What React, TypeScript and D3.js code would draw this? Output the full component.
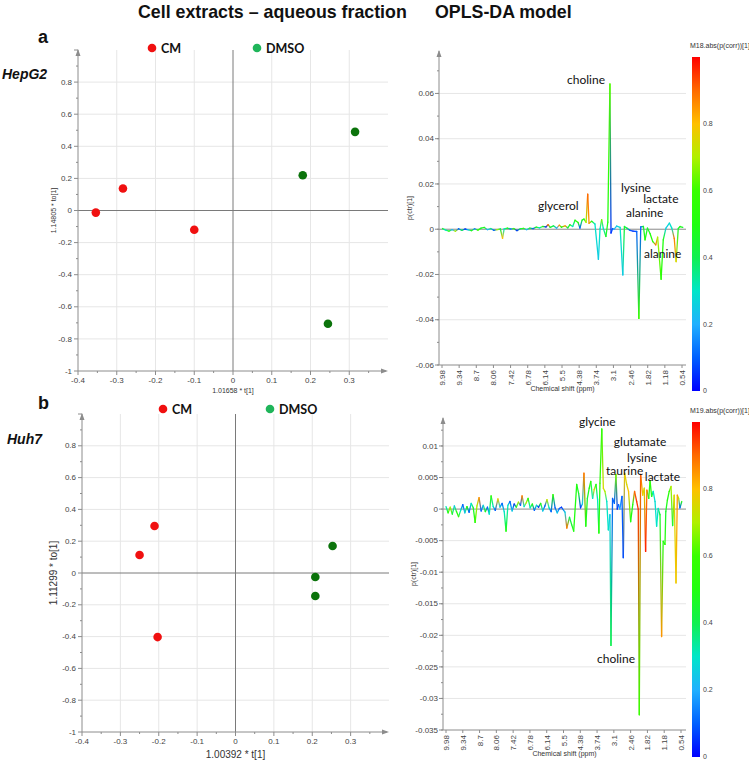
import React from "react";
import * as d3 from "d3";

// ---------- DATA ----------
const groupNames = ["CM", "DMSO"];
const hepCM_t = [-0.354, -0.284, -0.1];
const hepCM_to = [-0.013, 0.137, -0.12];
const hepDMSO_t = [0.315, 0.18, 0.245];
const hepDMSO_to = [0.49, 0.22, -0.706];
const huhCM_t = [-0.211, -0.25, -0.203];
const huhCM_to = [0.296, 0.113, -0.403];
const huhDMSO_t = [0.253, 0.208, 0.208];
const huhDMSO_to = [0.17, -0.025, -0.145];

const scoreXTicks = [-0.4, -0.3, -0.2, -0.1, 0, 0.1, 0.2, 0.3];
const scoreYTicks = [-1, -0.8, -0.6, -0.4, -0.2, 0, 0.2, 0.4, 0.6, 0.8];

const ppmTicks = [9.98, 9.34, 8.7, 8.06, 7.42, 6.78, 6.14, 5.5, 4.38, 3.74, 3.1, 2.46, 1.82, 1.18, 0.54];
const hepPTicks = [-0.06, -0.04, -0.02, 0, 0.02, 0.04, 0.06];
const huhPTicks = [-0.035, -0.03, -0.025, -0.02, -0.015, -0.01, -0.005, 0, 0.005, 0.01];
const corrTicks = [0, 0.2, 0.4, 0.6, 0.8];

// HepG2 loadings: ppm, p(ctr) x1e-3, abs(p(corr))
const hepPpm = [9.96, 9.84, 9.72, 9.6, 9.48, 9.36, 9.24, 9.12, 9.0, 8.88, 8.76, 8.64, 8.52, 8.4, 8.28, 8.16, 8.04, 7.92, 7.8, 7.72, 7.66, 7.54, 7.42, 7.3, 7.18, 7.06, 6.94, 6.82, 6.7, 6.58, 6.46, 6.34, 6.22, 6.1, 6.02, 5.94, 5.82, 5.7, 5.6, 5.52,
  5.3, 5.12, 4.98, 4.8, 4.65, 4.45,
  4.35, 4.27, 4.2, 4.12, 4.06, 4.01, 3.91, 3.79, 3.66, 3.6, 3.54, 3.48, 3.38, 3.31, 3.23, 3.19, 3.13, 3.07, 2.98, 2.85, 2.75, 2.69, 2.6, 2.48, 2.37, 2.23, 2.15, 2.08, 1.98, 1.92, 1.83, 1.73, 1.63, 1.52, 1.45, 1.32, 1.24, 1.14, 1.01, 0.92, 0.83, 0.76, 0.68, 0.61, 0.51];
const hepP = [0.3, -0.4, -0.8, -0.2, -0.9, 0.2, -0.5, 0.1, -0.3, -0.6, 0.2, -0.4, 0.5, 0.8, -0.2, 0.3, -0.5, -0.2, 0.1, -4.0, 0.2, 0.5, 0.1, 0.3, -0.6, 0.2, 0.4, -0.2, 0.5, 0.3, 0.9, 0.6, 1.2, 1.0, 2.0, 0.8, 1.5, 0.5, 1.8, 0.9,
  1.5, 0.6, 2.0, 1.2, 4.0, 3.0,
  0.5, 4.0, 4.5, 3.0, 15.5, 2.6, 3.5, 2.3, -13.3, 0.2, 4.2, 0.5, -3.2, 3.1, 64.2, -1.7, 0.3, 0, 1.4, 0.8, -20.2, 1.2, 0.5, -0.5, -0.8, -1.0, -39.4, 1.0, 1.2, -4.7, 0.5, -2.0, -5.5, -6.9, -3.5, -22.1, -4.7, 0.5, 2.7, 0.5, -4.0, -14.3, 0.3, 1.2, 0.8];
const hepCorr = [0.45, 0.3, 0.55, 0.2, 0.7, 0.1, 0.4, 0.05, 0.25, 0.5, 0.15, 0.6, 0.45, 0.5, 0.2, 0.35, 0.1, 0.7, 0.4, 0.8, 0.3, 0.5, 0.15, 0.6, 0.05, 0.4, 0.55, 0.2, 0.45, 0.1, 0.5, 0.3, 0.55, 0.05, 0.9, 0.45, 0.4, 0.2, 0.85, 0.5,
  0.85, 0.4, 0.5, 0.3, 0.5, 0.55,
  0.1, 0.45, 0.5, 0.7, 0.9, 0.85, 0.5, 0.3, 0.25, 0.3, 0.65, 0.3, 0.45, 0.5, 0.62, 0.05, 0.1, 0.2, 0.25, 0.3, 0.25, 0.45, 0.4, 0.1, 0.05, 0.1, 0.6, 0.1, 0.45, 0.5, 0.45, 0.5, 0.55, 0.88, 0.7, 0.55, 0.5, 0.25, 0.28, 0.3, 0.88, 0.75, 0.45, 0.5, 0.45];

// Huh7 loadings
const huhPpm = [9.98, 9.9, 9.82, 9.74, 9.66, 9.58, 9.5, 9.42, 9.34, 9.26, 9.18, 9.1, 9.02, 8.94, 8.87, 8.8, 8.72, 8.64, 8.56, 8.48, 8.4, 8.33, 8.26, 8.18, 8.1, 8.0, 7.92, 7.84, 7.76, 7.69, 7.62, 7.54, 7.46, 7.38, 7.3, 7.22, 7.14, 7.08, 7.0, 6.92, 6.85, 6.77, 6.69, 6.61, 6.53, 6.45, 6.37, 6.29, 6.21, 6.13, 6.05, 5.97, 5.9, 5.82, 5.74, 5.66, 5.58,
  5.4, 5.28, 5.1, 4.95, 4.82, 4.62, 4.49,
  4.37, 4.3, 4.24, 4.17, 4.11, 4.04, 3.98, 3.91, 3.85, 3.78, 3.72, 3.67, 3.63, 3.56, 3.5, 3.44, 3.37, 3.31, 3.25, 3.21, 3.15, 3.08, 3.02, 2.97, 2.92, 2.87, 2.79, 2.74, 2.69, 2.61, 2.54, 2.46, 2.38, 2.31, 2.23, 2.17, 2.13, 2.08, 2.0, 1.94, 1.89, 1.84, 1.77, 1.72, 1.66, 1.6, 1.53, 1.47, 1.41, 1.34, 1.28, 1.22, 1.15, 1.12, 1.06, 0.99, 0.92, 0.86, 0.8, 0.73, 0.68, 0.63, 0.58, 0.51];
const huhP = [0.4, -0.6, 0.3, -0.8, 0.5, -0.4, -1.2, -0.2, 0.7, -0.6, 0.4, -0.5, 0.9, 0.2, -2.1, 0.5, 1.8, -0.3, 0.6, -0.4, 0.3, -0.8, 2.1, 0.4, -0.2, 1.6, 0.3, 0.9, -0.4, -3.5, 0.6, 1.2, -0.3, 0.8, 0.3, 1.1, 0.6, 2.1, 0.4, 1.0, 1.7, 0.2, 0.8, -0.2, 0.6, 0.3, 0.9, -0.3, 0.5, 1.5, 0.2, -0.4, 2.3, 0.2, -0.6, 0.1, 0.3,
  -0.5, -3.0, -1.3, -2.5, -3.5, 3.9, 2.5,
  0.2, 0.8, 5.7, -2.7, 1.7, 3.3, 4.4, 1.7, 3.1, 3.9, 1.5, -3.8, 4.1, 12.7, 3.3, 2.8, 1.2, -3.3, -0.9, -21.6, 1.7, 0.9, 5.5, 0, 0.7, 0, 2.0, -7.7, 5.7, 3.9, 2.8, -2.0, 0.7, 2.8, 1.2, 0, -32.6, 5.5, 2.2, 3.3, -6.7, 3.0, 1.7, 4.5, 2.0, 2.8, 1.2, -2.7, 0.1, -0.9, -20.2, -5.1, -5.6, -0.4, 1.4, 2.8, 3.6, -2.6, 2.2, -11.7, 2.2, 1.7, 0.2, 1.2];
const huhCorr = [0.3, 0.5, 0.7, 0.45, 0.25, 0.5, 0.55, 0.3, 0.1, 0.25, 0.5, 0.1, 0.3, 0.45, 0.55, 0.7, 0.85, 0.1, 0.25, 0.5, 0.1, 0.3, 0.55, 0.3, 0.1, 0.78, 0.25, 0.1, 0.3, 0.5, 0.3, 0.1, 0.25, 0.05, 0.45, 0.7, 0.1, 0.88, 0.3, 0.7, 0.55, 0.3, 0.5, 0.1, 0.3, 0.05, 0.5, 0.25, 0.1, 0.72, 0.3, 0.1, 0.55, 0.1, 0.25, 0.1, 0.05,
  0.25, 0.88, 0.4, 0.45, 0.5, 0.5, 0.45,
  0.05, 0.25, 0.88, 0.5, 0.45, 0.5, 0.55, 0.3, 0.75, 0.5, 0.3, 0.5, 0.55, 0.55, 0.75, 0.7, 0.3, 0.3, 0.25, 0.4, 0.1, 0.1, 0.65, 0.05, 0.1, 0.2, 0.1, 0.08, 0.78, 0.75, 0.8, 0.5, 0.5, 0.9, 0.95, 0.95, 0.6, 0.92, 0.78, 0.75, 0.97, 0.88, 0.5, 0.55, 0.5, 0.3, 0.28, 0.3, 0.3, 0.45, 0.85, 0.5, 0.55, 0.45, 0.5, 0.55, 0.7, 0.45, 0.75, 0.78, 0.85, 0.7, 0.1, 0.5];

// annotations: label, ppm, p(ctr)
const hepAnnLabels = ["choline", "glycerol", "lysine", "lactate", "alanine", "alanine"];
const hepAnnPpm = [5.17, 6.4, 2.82, 1.99, 2.63, 1.96];
const hepAnnP = [0.0642, 0.0084, 0.0166, 0.0115, 0.0054, -0.0128];
const huhAnnLabels = ["glycine", "glutamate", "lysine", "taurine", "lactate", "choline"];
const huhAnnPpm = [4.47, 3.1, 2.6, 3.4, 1.92, 3.74];
const huhAnnP = [0.01313, 0.00997, 0.00745, 0.00538, 0.00443, -0.02437];

// ---------- STYLE ----------
const TICK_FONT = "'Liberation Sans', Arial, sans-serif";
const CAL_FONT = "Lato, 'Open Sans', sans-serif";
const cmapStops = [0, 0.1, 0.2, 0.3, 0.4, 0.5, 0.6, 0.7, 0.8, 0.9, 1];
const cmapColors = ["#0000ff", "#0060ff", "#20b0ff", "#00e6c8", "#10f050", "#20ff10", "#38ff00", "#b0f000", "#ffc000", "#ff6a00", "#ff0000"];
const cmap = d3.scaleLinear<string>().domain(cmapStops).range(cmapColors).interpolate(d3.interpolateRgb);

const RED = "#f01010";
const DKGREEN = "#0b730b";
const LTGREEN = "#1fb55a";

function fmt(v: number) {
  return String(+v.toFixed(3));
}

type ScatterProps = {
  left: number; right: number; top: number; bottom: number;
  cmT: number[]; cmTo: number[]; dmT: number[]; dmTo: number[];
  xLabel: string; yLabel: string; labelSize: number;
  letter: string; cell: string; legendY: number; cmX: number; dmX: number;
  letterY: number; cellX: number; cellY: number;
};

function Scatter(p: ScatterProps) {
  const x = d3.scaleLinear().domain([-0.4, 0.4]).range([p.left, p.right]);
  const y = d3.scaleLinear().domain([-1, 1]).range([p.bottom, p.top]);
  const grid = "#e6e6e6";
  const axis = "#8c8c8c";
  const minorX = d3.range(-0.4, 0.4, 0.05);
  const minorY = d3.range(-1, 1.0001, 0.1);
  return (
    <g>
      {scoreXTicks.filter((v) => v !== 0 && v !== -0.4).map((v) => (
        <line key={"gx" + v} x1={x(v)} x2={x(v)} y1={p.top} y2={p.bottom} stroke={grid} />
      ))}
      {scoreYTicks.filter((v) => v !== 0 && v !== -1).map((v) => (
        <line key={"gy" + v} x1={p.left} x2={p.right} y1={y(v)} y2={y(v)} stroke={grid} />
      ))}
      <line x1={x(0)} x2={x(0)} y1={p.top} y2={p.bottom} stroke="#7a7a7a" />
      <line x1={p.left} x2={p.right} y1={y(0)} y2={y(0)} stroke="#7a7a7a" />
      <line x1={p.left} x2={p.left} y1={p.top} y2={p.bottom} stroke={axis} />
      <line x1={p.left} x2={p.right - 2} y1={p.bottom} y2={p.bottom} stroke={axis} />
      <path d={`M${p.left - 2.5},${p.top + 6} L${p.left},${p.top - 1} L${p.left + 2.5},${p.top + 6} Z`} fill={axis} />
      <path d={`M${p.right - 7},${p.bottom - 2.5} L${p.right},${p.bottom} L${p.right - 7},${p.bottom + 2.5} Z`} fill={axis} />
      {minorY.map((v, i) => (
        <line key={"my" + i} x1={p.left - (i % 2 === 0 ? 4 : 2)} x2={p.left} y1={y(v)} y2={y(v)} stroke={axis} />
      ))}
      {minorX.map((v, i) => (
        <line key={"mx" + i} x1={x(v)} x2={x(v)} y1={p.bottom} y2={p.bottom + (i % 2 === 0 ? 4 : 2)} stroke={axis} />
      ))}
      {scoreYTicks.map((v) => (
        <text key={"ty" + v} x={p.left - 6} y={y(v)} dy="0.33em" textAnchor="end" fontSize={8} fontFamily={TICK_FONT} fill="#444">{fmt(v)}</text>
      ))}
      {scoreXTicks.map((v) => (
        <text key={"tx" + v} x={x(v)} y={p.bottom + 12} textAnchor="middle" fontSize={8} fontFamily={TICK_FONT} fill="#444">{fmt(v)}</text>
      ))}
      <text x={x(0)} y={p.bottom + (p.labelSize > 8 ? 26 : 22)} textAnchor="middle" fontSize={p.labelSize} fontFamily={TICK_FONT} fill="#333">{p.xLabel}</text>
      <text transform={`translate(${p.left - (p.labelSize > 8 ? 25 : 22)},${y(0)}) rotate(-90)`} textAnchor="middle" fontSize={p.labelSize} fontFamily={TICK_FONT} fill="#333">{p.yLabel}</text>
      {p.cmT.map((t, i) => (
        <circle key={"c" + i} cx={x(t)} cy={y(p.cmTo[i])} r={4.3} fill={RED} />
      ))}
      {p.dmT.map((t, i) => (
        <circle key={"d" + i} cx={x(t)} cy={y(p.dmTo[i])} r={4.3} fill={DKGREEN} />
      ))}
      <circle cx={p.cmX} cy={p.legendY} r={4.3} fill={RED} />
      <text x={p.cmX + 9} y={p.legendY + 4.5} fontSize={12.5} fontWeight="bold" fontFamily={CAL_FONT} fill="#111">{groupNames[0]}</text>
      <circle cx={p.dmX} cy={p.legendY} r={4.3} fill={LTGREEN} />
      <text x={p.dmX + 9} y={p.legendY + 4.5} fontSize={12.5} fontWeight="bold" fontFamily={CAL_FONT} fill="#111">{groupNames[1]}</text>
      <text x={38} y={p.letterY} fontSize={18} fontWeight="bold" fontFamily={TICK_FONT} fill="#111">{p.letter}</text>
      <text x={p.cellX} y={p.cellY} fontSize={14} fontWeight="bold" fontStyle="italic" fontFamily={TICK_FONT} fill="#111">{p.cell}</text>
    </g>
  );
}

type SpecProps = {
  id: string;
  axisX: number; x0: number; x1: number; right: number;
  top: number; bottom: number; yDomain: [number, number];
  ppm: number[]; pv: number[]; corr: number[];
  yTicks: number[]; minorStep: number;
  annLabels: string[]; annPpm: number[]; annP: number[];
  cbTop: number; cbBottom: number; cbTitle: string;
};

function Spectrum(s: SpecProps) {
  const w = (s.x1 - s.x0) / 14;
  const x = d3.scaleLinear().domain([9.98, 5.5, 4.38, 0.54]).range([s.x0, s.x0 + 7 * w, s.x0 + 8 * w, s.x1]);
  const y = d3.scaleLinear().domain(s.yDomain).range([s.bottom, s.top]);
  const pts = s.ppm.map((d, i) => ({ px: x(d), py: y(s.pv[i] / 1000), c: s.corr[i] }));
  const axis = "#8c8c8c";
  const minor = d3.range(Math.ceil(s.yDomain[0] / s.minorStep) * s.minorStep, s.yDomain[1] - 0.0005, s.minorStep);
  const cb = d3.scaleLinear().domain([0, 1]).range([s.cbBottom, s.cbTop]);
  return (
    <g>
      <defs>
        {pts.slice(0, -1).map((a, i) => {
          const b = pts[i + 1];
          return (
            <linearGradient key={i} id={`${s.id}g${i}`} gradientUnits="userSpaceOnUse" x1={a.px} y1={a.py} x2={b.px} y2={b.py}>
              <stop offset="0" stopColor={cmap(a.c)} />
              <stop offset="1" stopColor={cmap(b.c)} />
            </linearGradient>
          );
        })}
        <linearGradient id={`${s.id}cb`} x1="0" y1="1" x2="0" y2="0">
          {cmapStops.map((v, i) => (
            <stop key={i} offset={v} stopColor={cmapColors[i]} />
          ))}
        </linearGradient>
      </defs>
      {s.yTicks.filter((v) => v !== 0 && v !== s.yDomain[0]).map((v) => (
        <line key={"g" + v} x1={s.axisX} x2={s.right} y1={y(v)} y2={y(v)} stroke="#e6e6e6" />
      ))}
      <line x1={s.axisX} x2={s.right} y1={y(0)} y2={y(0)} stroke="#8a8a8a" />
      <line x1={s.axisX} x2={s.axisX} y1={s.top} y2={s.bottom} stroke={axis} />
      <line x1={s.axisX} x2={s.right} y1={s.bottom} y2={s.bottom} stroke={axis} />
      <path d={`M${s.axisX - 2.5},${s.top + 6} L${s.axisX},${s.top - 1} L${s.axisX + 2.5},${s.top + 6} Z`} fill={axis} />
      {minor.map((v, i) => (
        <line key={"m" + i} x1={s.axisX - 2} x2={s.axisX} y1={y(v)} y2={y(v)} stroke={axis} />
      ))}
      {s.yTicks.map((v) => (
        <g key={"t" + v}>
          <line x1={s.axisX - 4} x2={s.axisX} y1={y(v)} y2={y(v)} stroke={axis} />
          <text x={s.axisX - 5} y={y(v)} dy="0.33em" textAnchor="end" fontSize={8} fontFamily={TICK_FONT} fill="#444">{fmt(v)}</text>
        </g>
      ))}
      {ppmTicks.map((v) => (
        <g key={"x" + v}>
          <line x1={x(v)} x2={x(v)} y1={s.bottom} y2={s.bottom + 3} stroke={axis} />
          <text transform={`translate(${x(v) + 3},${s.bottom + 5}) rotate(-90)`} textAnchor="end" fontSize={8} fontFamily={TICK_FONT} fill="#444">{v}</text>
        </g>
      ))}
      <text x={(s.axisX + s.right) / 2} y={s.bottom + 26} textAnchor="middle" fontSize={7} fontFamily={TICK_FONT} fill="#333">Chemical shift (ppm)</text>
      <text transform={`translate(${s.axisX - 27},${(s.top + s.bottom) / 2}) rotate(-90)`} textAnchor="middle" fontSize={7} fontFamily={TICK_FONT} fill="#333">p(ctr)[1]</text>
      {pts.slice(0, -1).map((a, i) => {
        const b = pts[i + 1];
        return <line key={"s" + i} x1={a.px} y1={a.py} x2={b.px} y2={b.py} stroke={`url(#${s.id}g${i})`} strokeWidth={1.3} strokeLinecap="round" />;
      })}
      {s.annLabels.map((l, i) => (
        <text key={"a" + i} x={x(s.annPpm[i])} y={y(s.annP[i])} fontSize={12} fontFamily={CAL_FONT} fill="#111">{l}</text>
      ))}
      <rect x={692} y={s.cbTop} width={8} height={s.cbBottom - s.cbTop} fill={`url(#${s.id}cb)`} />
      {corrTicks.map((v) => (
        <text key={"cb" + v} x={703} y={cb(v)} dy="0.33em" fontSize={7} fontFamily={TICK_FONT} fill="#444">{fmt(v)}</text>
      ))}
      <text x={690} y={s.cbTop - 9} fontSize={7} fontFamily={TICK_FONT} fill="#333">{s.cbTitle}</text>
    </g>
  );
}

export default function App() {
  return (
    <svg width={749} height={763} style={{ position: "absolute", left: 0, top: 0, background: "#fff" }}>
      <rect width={749} height={763} fill="#fff" />
      <text x={138} y={18} fontSize={17.8} fontWeight="bold" fontFamily={TICK_FONT} fill="#111">Cell extracts – aqueous fraction</text>
      <text x={435} y={18} fontSize={17.8} fontWeight="bold" fontFamily={TICK_FONT} fill="#111">OPLS-DA model</text>
      <Scatter left={78} right={388} top={50} bottom={371} cmT={hepCM_t} cmTo={hepCM_to} dmT={hepDMSO_t} dmTo={hepDMSO_to}
        xLabel="1.01658 * t[1]" yLabel="1.14805 * to[1]" labelSize={7} letter="a" cell="HepG2"
        legendY={48} cmX={152} dmX={257} letterY={43} cellX={2} cellY={79} />
      <Scatter left={82} right={389} top={414} bottom={732} cmT={huhCM_t} cmTo={huhCM_to} dmT={huhDMSO_t} dmTo={huhDMSO_to}
        xLabel="1.00392 * t[1]" yLabel="1.11299 * to[1]" labelSize={10} letter="b" cell="Huh7"
        legendY={409} cmX={163} dmX={270} letterY={409} cellX={7} cellY={444} />
      <Spectrum id="hep" axisX={439} x0={442} x1={682} right={686} top={51} bottom={365} yDomain={[-0.06, 0.07876]}
        ppm={hepPpm} pv={hepP} corr={hepCorr} yTicks={hepPTicks} minorStep={0.01}
        annLabels={hepAnnLabels} annPpm={hepAnnPpm} annP={hepAnnP} cbTop={57} cbBottom={391} cbTitle="M18.abs(p(corr))[1]" />
      <Spectrum id="huh" axisX={443} x0={446} x1={681} right={686} top={418} bottom={730} yDomain={[-0.035, 0.01443]}
        ppm={huhPpm} pv={huhP} corr={huhCorr} yTicks={huhPTicks} minorStep={0.0025}
        annLabels={huhAnnLabels} annPpm={huhAnnPpm} annP={huhAnnP} cbTop={422} cbBottom={757} cbTitle="M19.abs(p(corr))[1]" />
    </svg>
  );
}
